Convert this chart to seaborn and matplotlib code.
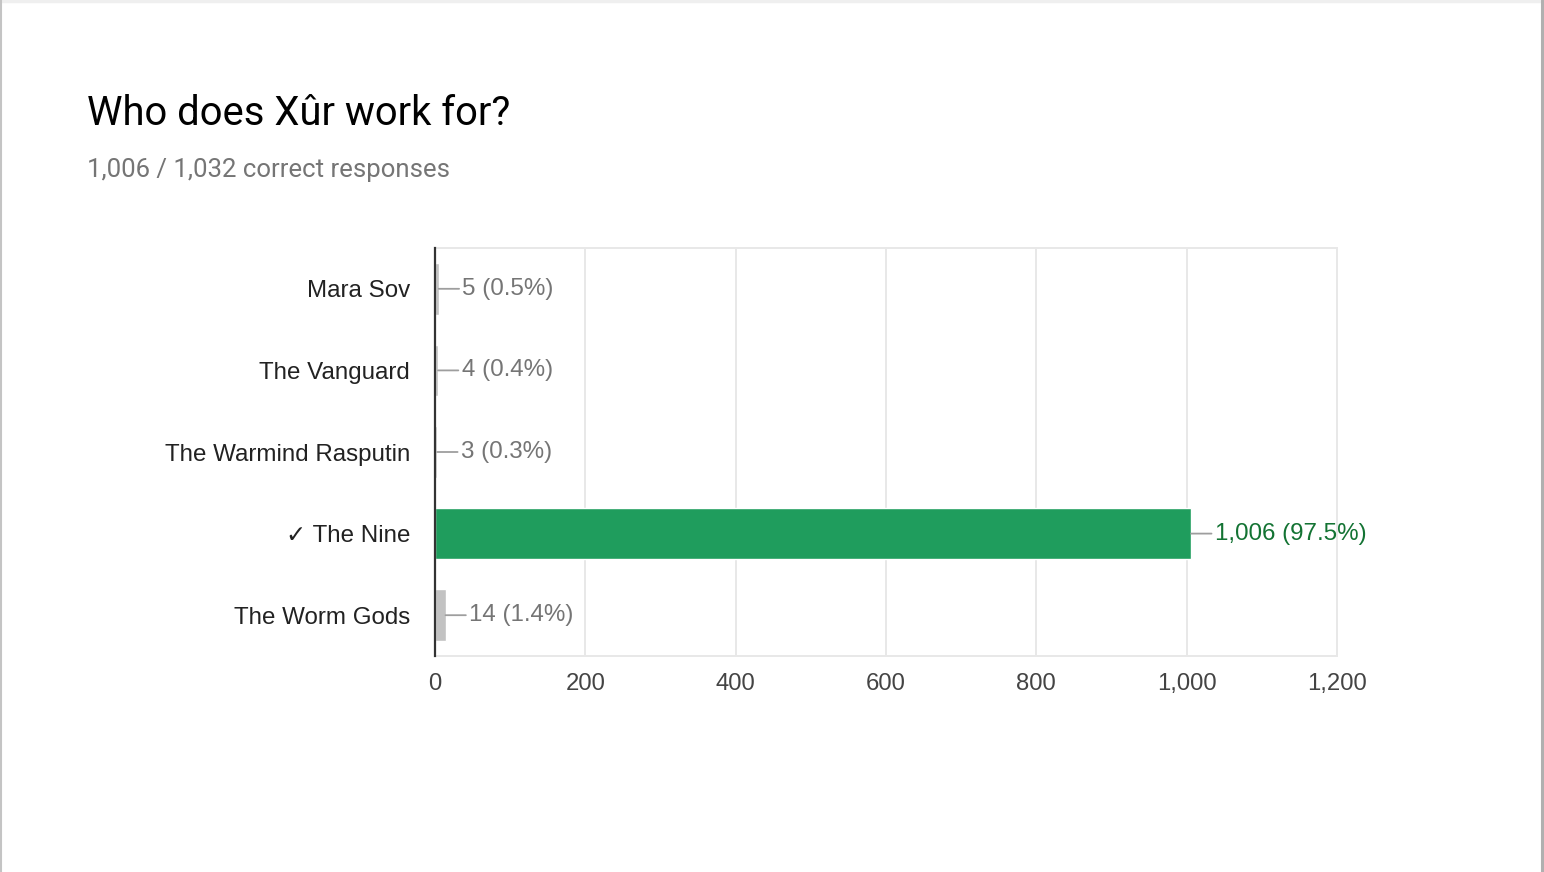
import numpy as np
import pandas as pd
import matplotlib
matplotlib.use("Agg")
import matplotlib.pyplot as plt
from matplotlib.lines import Line2D
import seaborn as sns

# data
answers = ["Mara Sov", "The Vanguard", "The Warmind Rasputin", "The Nine", "The Worm Gods"]
counts = [5, 4, 3, 1006, 14]
percents = [0.5, 0.4, 0.3, 97.5, 1.4]
correct = [False, False, False, True, False]
xticks = [0, 200, 400, 600, 800, 1000, 1200]

green = "#1f9d5d"
green_txt = "#137333"
grey_bar = "#c2c2c2"
grey_txt = "#757575"
chart_font = ["Liberation Sans", "DejaVu Sans"]

sns.set_theme(style="white")
plt.rcParams["font.family"] = ["Roboto", "DejaVu Sans"]

df = pd.DataFrame({
    "answer": [("\u2713 " + a) if c else a for a, c in zip(answers, correct)],
    "count": counts,
    "kind": ["right" if c else "other" for c in correct],
})

fig = plt.figure(figsize=(15.44, 8.72), dpi=100)
ax = fig.add_axes([435 / 1544, 1 - 656 / 872, (1337 - 435) / 1544, (656 - 248) / 872])

sns.barplot(data=df, y="answer", x="count", hue="kind", orient="h",
            palette={"right": green, "other": grey_bar}, width=0.63,
            dodge=False, legend=False, ax=ax, saturation=1)

ax.set_xlim(0, 1200)
ax.set_ylim(4.5, -0.5)
ax.set_xticks(xticks)
ax.set_xticklabels([f"{t:,}" for t in xticks])
ax.set_xlabel("")
ax.set_ylabel("")
ax.grid(axis="x", color="#e8e8e8", lw=1.4)
ax.set_axisbelow(True)
for s in ["top", "right", "bottom"]:
    ax.spines[s].set_color("#e8e8e8")
    ax.spines[s].set_linewidth(1.4)
ax.spines["left"].set_color("#333333")
ax.spines["left"].set_linewidth(1.6)
ax.spines["left"].set_zorder(5)
ax.tick_params(axis="both", length=0)
ax.tick_params(axis="x", pad=12, labelsize=17.2, labelcolor="#444444")
ax.tick_params(axis="y", pad=18, labelsize=17.4, labelcolor="#222222")
for lab in ax.get_xticklabels() + ax.get_yticklabels():
    lab.set_family(chart_font)

for i, (n, p, c) in enumerate(zip(counts, percents, correct)):
    ax.annotate(f"{n:,} ({p}%)", xy=(n, i), xytext=(17, 0), textcoords="offset points",
                ha="left", va="center", fontsize=17.4, family=chart_font,
                color=green_txt if c else grey_txt,
                arrowprops=dict(arrowstyle="-", color="#9e9e9e", lw=1.3,
                                shrinkA=0, shrinkB=0))

fig.text(87 / 1544, 1 - 125 / 872, "Who does X\u00fbr work for?", fontsize=28.8,
         color="#000000", ha="left", va="baseline")
fig.text(87 / 1544, 1 - 177 / 872, "1,006 / 1,032 correct responses", fontsize=18.5,
         color=grey_txt, ha="left", va="baseline")

# card frame
fig.add_artist(Line2D([0, 1], [1 - 1.5 / 872, 1 - 1.5 / 872], color="#efefef", lw=2.5,
                      transform=fig.transFigure))
fig.add_artist(Line2D([1 / 1544, 1 / 1544], [0, 1], color="#c4c4c4", lw=1.5,
                      transform=fig.transFigure))
fig.add_artist(Line2D([1 - 2 / 1544, 1 - 2 / 1544], [0, 1], color="#b0b0b0", lw=2.2,
                      transform=fig.transFigure))

fig.savefig("out.png", dpi=100)
